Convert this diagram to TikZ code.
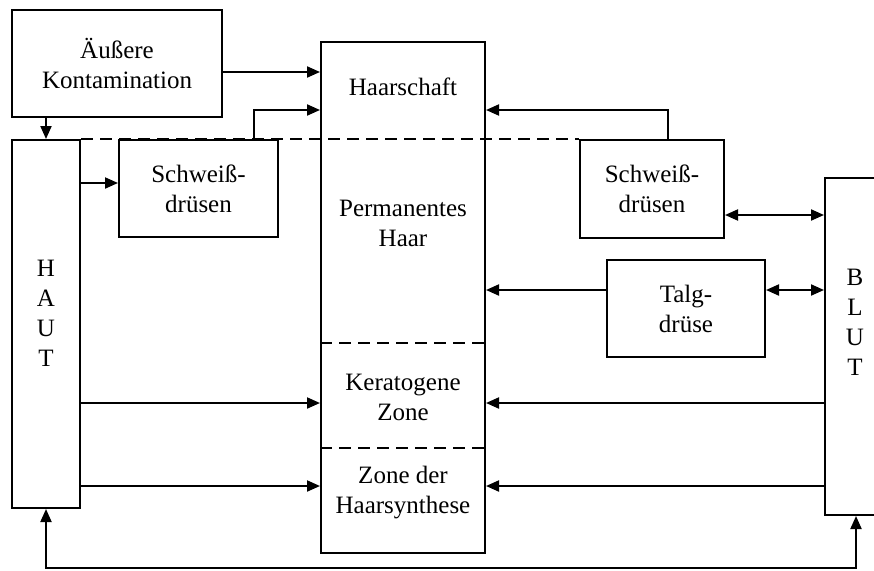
\documentclass[tikz,border=0pt]{standalone}
\usepackage{fontspec}
\setmainfont{Liberation Serif}
\usetikzlibrary{arrows.meta,positioning}

\begin{document}
\begin{tikzpicture}[x=1pt,y=-1pt,line width=2pt,
    >={Triangle[length=13pt,width=11pt]},
    font=\fontsize{25}{30}\selectfont,
    box/.style={draw,rectangle,inner sep=0pt,align=center},
    lbl/.style={align=center,inner sep=0pt},
    trenn/.style={dash pattern=on 12pt off 7pt}]
  \useasboundingbox (0,0) rectangle (874,570);
  % boxes
  \node[box,minimum width=210pt,minimum height=107pt] (aussen) at (117,63.5) {Äußere\\Kontamination};
  \node[box,minimum width=68pt,minimum height=368pt] (haut) at (46,324) {};
  \node[box,minimum width=159pt,minimum height=97pt] (schweissL) at (198.5,188.5) {Schweiß-\\drüsen};
  \node[box,minimum width=164pt,minimum height=511pt] (haar) at (403,297.5) {};
  \node[box,minimum width=144pt,minimum height=98pt] (schweissR) at (652,189) {Schweiß-\\drüsen};
  \node[box,minimum width=158pt,minimum height=97pt] (talg) at (686,308.5) {Talg-\\drüse};
  \node[box,minimum width=62pt,minimum height=337pt] (blut) at (856,346.5) {};
  % texts
  \node[lbl] (hautT) at (46,313) {H\\A\\U\\T};
  \node[lbl] (blutT) at (855,322) {B\\L\\U\\T};
  \node[lbl] (schaft) at (403,87) {Haarschaft};
  \node[lbl] (perm) at (403,223) {Permanentes\\Haar};
  \node[lbl] (kerat) at (403,397) {Keratogene\\Zone};
  \node[lbl] (synth) at (403,493) {Zone der\\Haarsynthese};
  % levels
  \coordinate (yA) at (0,72);
  \coordinate (yB) at (0,110);
  \coordinate (yC) at (0,183);
  \coordinate (yD) at (0,215);
  \coordinate (yE) at (0,290);
  \coordinate (yF) at (0,403);
  \coordinate (yG) at (0,486);
  \coordinate (yH) at (0,568);
  \coordinate (xL) at (254,0);
  \coordinate (xR) at (668,0);
  % dashed separators
  \draw[trenn] (haut.north east) -- (schweissR.north west);
  \draw[trenn] (haar.west |- 0,343) -- (haar.east |- 0,343);
  \draw[trenn] (haar.west |- 0,448) -- (haar.east |- 0,448);
  % arrows
  \draw[->] (aussen.east |- yA) -- (haar.west |- yA);
  \draw[->] (haut.north |- aussen.south) -- (haut.north);
  \draw[->] (haut.east |- yC) -- (schweissL.west |- yC);
  \draw[->] (xL |- schweissL.north) |- (haar.west |- yB);
  \draw[->] (xR |- schweissR.north) |- (haar.east |- yB);
  \draw[<->] (schweissR.east |- yD) -- (blut.west |- yD);
  \draw[->] (talg.west |- yE) -- (haar.east |- yE);
  \draw[<->] (talg.east |- yE) -- (blut.west |- yE);
  \foreach \lev in {yF,yG} {
    \draw[->] (haut.east |- \lev) -- (haar.west |- \lev);
    \draw[->] (blut.west |- \lev) -- (haar.east |- \lev);
  }
  \draw[<->] (haut.south) -- (haut.south |- yH) -- (blut.south |- yH) -- (blut.south);
\end{tikzpicture}
\end{document}
